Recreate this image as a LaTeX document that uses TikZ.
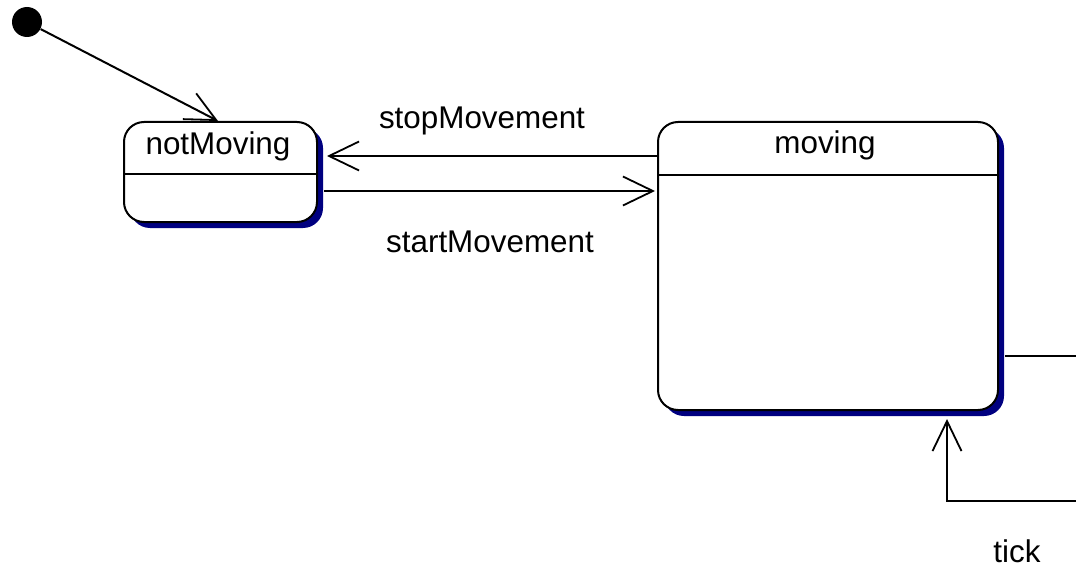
\documentclass[tikz,border=0pt]{standalone}
\usepackage{fontspec}
\setmainfont{Liberation Sans}
\usetikzlibrary{arrows.meta,shadows,calc}
\definecolor{shadownavy}{RGB}{0,0,128}
\tikzset{
  state/.style={draw, line width=1pt, fill=white, rounded corners=10pt,
    drop shadow={shadow xshift=3pt, shadow yshift=-3pt, fill=shadownavy, opacity=1}},
  statename/.style={anchor=base, inner sep=0pt, font=\fontsize{15.7}{19}\selectfont},
  trans/.style={line width=1pt, -{Straight Barb[length=15pt,width=14.5pt,line width=0.9pt]}},
}
\begin{document}
\begin{tikzpicture}[x=0.5pt,y=-0.5pt]
      \useasboundingbox (0,0) rectangle (1076,567);
      \draw
        (27,22) node[circle, fill, inner sep=0pt, minimum size=15pt] (init){}
        (220.5,172) node[state, minimum width=96.5pt, minimum height=50pt] (notMoving){}
        (828,266) node[state, minimum width=170pt, minimum height=144pt] (moving){};
      % state names and compartments
      \node[statename] (notMovingName) at ($(notMoving.north)+(-2.5,34)$) {notMoving};
      \node[statename] (movingName) at ($(moving.north)+(-3,33)$) {moving};
      \draw[line width=1pt] ($(notMoving.north west)+(0,53)$) -- ($(notMoving.north east)+(0,53)$);
      \draw[line width=1pt] ($(moving.north west)+(0,54)$) -- ($(moving.north east)+(0,54)$);
      % transitions
      \begin{scope}[trans]
        \draw (init) to ($(notMoving.north)+(-2.5,0)$);
        \draw ($(moving.north west)+(0,35)$) to ($(notMoving.north east)+(9,35)$);
        \draw ($(notMoving.north east)+(6,70)$) to ($(moving.north west)+(-2,70)$);
        \draw ($(moving.north east)+(6,235)$) -| (1100,501) -| ($(moving.south east)+(-52,8)$);
      \end{scope}
      \node[statename] (stopLabel) at (482,128) {stopMovement};
      \node[statename] (startLabel) at (490,252) {startMovement};
      \node[statename] (tickLabel) at (1017,562) {tick};
    \end{tikzpicture}
\end{document}
